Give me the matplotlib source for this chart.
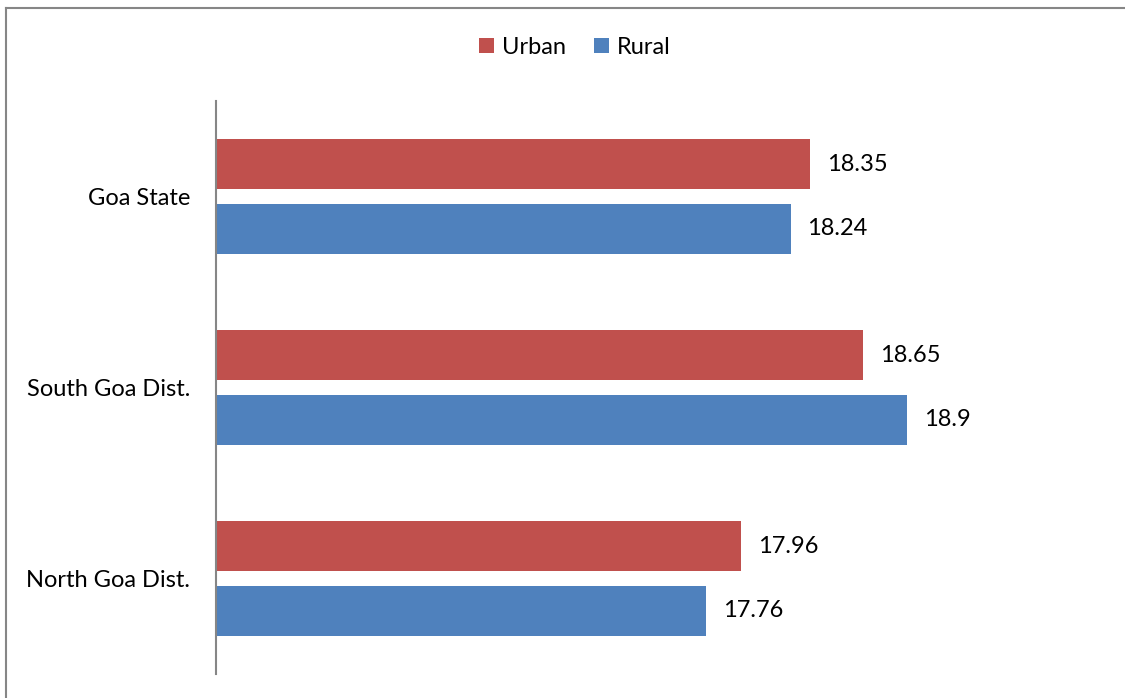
import matplotlib.pyplot as plt
from matplotlib.lines import Line2D
import numpy as np

# district-wise values, bottom to top
categories = ["North Goa Dist.", "South Goa Dist.", "Goa State"]
urban = [17.96, 18.65, 18.35]
rural = [17.76, 18.9, 18.24]

plt.rcParams['font.family'] = ['Lato', 'DejaVu Sans']
FS = 17

W, H = 1125, 698
fig = plt.figure(figsize=(W / 100, H / 100), dpi=100)
ax = fig.add_axes([216 / W, 1 - 674 / H, (1013 - 216) / W, (674 - 101) / H])

y = np.arange(len(categories))
h = 0.262
off = 0.168
red = "#C0504D"
blue = "#4F81BD"
x0 = 14.985

b1 = ax.barh(y + off, [v - x0 for v in urban], height=h, left=x0, color=red, label="Urban")
b2 = ax.barh(y - off, [v - x0 for v in rural], height=h, left=x0, color=blue, label="Rural")

for bars, vals in ((b1, urban), (b2, rural)):
    for bar, v in zip(bars, vals):
        ax.text(v + 0.095, bar.get_y() + bar.get_height() / 2, f"{v:g}",
                va="center", ha="left", fontsize=FS, color="black")

ax.set_xlim(x0, 19.5)
ax.set_ylim(-0.5, 2.5)
ax.set_yticks(y)
ax.set_yticklabels(categories, fontsize=FS)
ax.tick_params(axis="y", length=0, pad=18.5)
ax.set_xticks([])
for s in ("top", "right", "bottom"):
    ax.spines[s].set_visible(False)
ax.spines["left"].set_color("#868686")
ax.spines["left"].set_linewidth(1.5)

fig.legend(handles=[b1, b2], loc="center", bbox_to_anchor=(575 / W, 1 - 47 / H),
           ncol=2, frameon=False, fontsize=FS, handlelength=0.62, handleheight=0.62,
           handletextpad=0.35, columnspacing=1.2)

# chart-area border (top and left edges)
fig.add_artist(Line2D([6 / W, 1], [1 - 8 / H, 1 - 8 / H], transform=fig.transFigure,
                      color="#868686", lw=1.5))
fig.add_artist(Line2D([6 / W, 6 / W], [0, 1 - 8 / H], transform=fig.transFigure,
                      color="#868686", lw=1.5))

fig.savefig("out.png", dpi=100)
